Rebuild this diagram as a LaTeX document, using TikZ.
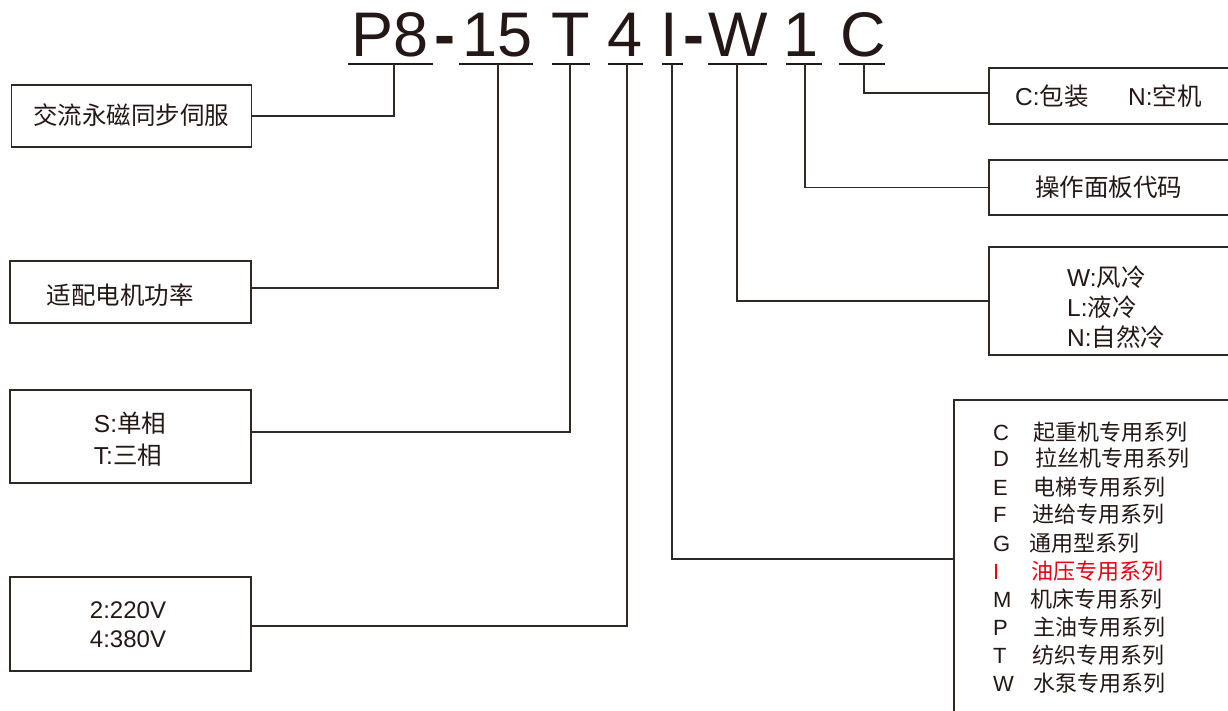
\documentclass[tikz,border=0pt]{standalone}
\usepackage{fontspec}
\setmainfont{Liberation Sans}
\newfontfamily\cjk{Noto Sans CJK SC}
\definecolor{ink}{HTML}{231815}
\definecolor{lineink}{HTML}{2E2827}
\definecolor{redink}{HTML}{E60012}
\newcommand{\zh}[1]{{\cjk #1}}
\tikzset{
  titletxt/.style={inner sep=0pt, anchor=base, text=ink, font=\fontsize{63}{63}\selectfont},
  uline/.style={draw=ink, line width=2.7pt},
  conn/.style={draw=lineink, line width=1.4pt},
  box/.style={draw=lineink, line width=1.6pt, rectangle, inner sep=0pt},
  boxtxt/.style={inner sep=0pt, text=ink, font=\fontsize{24.5}{24.5}\selectfont},
  listtxt/.style={inner sep=0pt, anchor=base west, text=ink, font=\fontsize{22}{22}\selectfont},
}
\begin{document}
\begin{tikzpicture}[x=1pt,y=-1pt]
\useasboundingbox (0,0) rectangle (1228,711);
\clip (0,0) rectangle (1228,711);
\fill[white] (0,0) rectangle (1228,711);

% ---- title ----
\node[titletxt] (tP8) at (390.5,57) {P8};
\node[titletxt, font=\fontsize{63}{63}\selectfont\bfseries] (th1) at (445,57) {-};
\node[titletxt] (t15) at (497.5,57) {15};
\node[titletxt] (tT)  at (570.5,57) {T};
\node[titletxt] (t4)  at (625,57) {4};
\node[titletxt] (tI)  at (669.5,57) {I};
\node[titletxt, font=\fontsize{63}{63}\selectfont\bfseries] (th2) at (693.5,57) {-};
\node[titletxt] (tW)  at (738,57) {W};
\node[titletxt] (t1)  at (801.5,57) {1};
\node[titletxt] (tC)  at (863,57) {C};

% underlines
\draw[uline] (348,64) -- (433,64);
\draw[uline] (459,64) -- (533,64);
\draw[uline] (552,64) -- (590,64);
\draw[uline] (608,64) -- (643,64);
\draw[uline] (662,64) -- (683,64);
\draw[uline] (708,64) -- (767,64);
\draw[uline] (786,64) -- (822,64);
\draw[uline] (839,64) -- (885,64);

\coordinate (kP) at (394,64);
\coordinate (k15) at (498,64);
\coordinate (kT) at (570,64);
\coordinate (k4) at (627,64);
\coordinate (kI) at (672,64);
\coordinate (kW) at (737,64);
\coordinate (k1) at (805,64);
\coordinate (kC) at (864,64);

% ---- left boxes ----
\node[box, minimum width=240pt, minimum height=62pt] (b1) at (131.5,116) {};
\node[box, minimum width=241pt, minimum height=62pt] (b2) at (130.5,292) {};
\node[box, minimum width=241pt, minimum height=93pt] (b3) at (130.5,436.5) {};
\node[box, minimum width=241pt, minimum height=94pt] (b4) at (130.5,624) {};

\node[boxtxt, anchor=base] (l1) at (131,125) {\zh{交流永磁同步伺服}};
\node[boxtxt, anchor=base] (l2) at (120,304) {\zh{适配电机功率}};
\node[boxtxt, anchor=base] (l3a) at (130,432) {S:\zh{单相}};
\node[boxtxt, anchor=base] (l3b) at (128,464) {T:\zh{三相}};
\node[boxtxt, anchor=base, font=\fontsize{24}{24}\selectfont] (l4a) at (128,618.5) {2:220V};
\node[boxtxt, anchor=base, font=\fontsize{24}{24}\selectfont] (l4b) at (128,647) {4:380V};

% ---- right boxes ----
\node[box, minimum width=251pt, minimum height=56pt] (bC) at (1114.5,96) {};
\node[box, minimum width=251pt, minimum height=55pt] (bO) at (1114.5,187.5) {};
\node[box, minimum width=251pt, minimum height=108pt] (bW) at (1114.5,301) {};
\node[box, minimum width=286pt, minimum height=322pt] (bS) at (1097,561) {};

\node[boxtxt, anchor=base west] (rC1) at (1015,106) {C:\zh{包装}};
\node[boxtxt, anchor=base west] (rC2) at (1128,106) {N:\zh{空机}};
\node[boxtxt, anchor=base] (rO) at (1108.5,197) {\zh{操作面板代码}};
\node[boxtxt, anchor=base west] (rW1) at (1067,286) {W:\zh{风冷}};
\node[boxtxt, anchor=base west] (rW2) at (1067,316) {L:\zh{液冷}};
\node[boxtxt, anchor=base west] (rW3) at (1067,346) {N:\zh{自然冷}};

% series list
\node[listtxt] (sC)  at (993,440) {C};   \node[listtxt] (sCt) at (1033,440) {\zh{起重机专用系列}};
\node[listtxt] (sD)  at (993,466) {D};   \node[listtxt] (sDt) at (1035,466) {\zh{拉丝机专用系列}};
\node[listtxt] (sE)  at (993,495) {E};   \node[listtxt] (sEt) at (1033,495) {\zh{电梯专用系列}};
\node[listtxt] (sF)  at (993,522) {F};   \node[listtxt] (sFt) at (1032,522) {\zh{进给专用系列}};
\node[listtxt] (sG)  at (993,551) {G};   \node[listtxt] (sGt) at (1029,551) {\zh{通用型系列}};
\node[listtxt, text=redink] (sI)  at (993,579) {I};   \node[listtxt, text=redink] (sIt) at (1031,579) {\zh{油压专用系列}};
\node[listtxt] (sM)  at (993,607) {M};   \node[listtxt] (sMt) at (1030,607) {\zh{机床专用系列}};
\node[listtxt] (sP)  at (993,635) {P};   \node[listtxt] (sPt) at (1033,635) {\zh{主油专用系列}};
\node[listtxt] (sT)  at (993,663) {T};   \node[listtxt] (sTt) at (1032,663) {\zh{纺织专用系列}};
\node[listtxt] (sW)  at (993,691) {W};   \node[listtxt] (sWt) at (1033,691) {\zh{水泵专用系列}};

% ---- connectors ----
\draw[conn] (kP) |- (b1.east);
\draw[conn] (k15) |- ([yshift=4pt]b2.east);
\draw[conn] (kT) |- ([yshift=4.5pt]b3.east);
\draw[conn] (k4) |- ([yshift=-2pt]b4.east);
\draw[conn] (kI) |- ([yshift=2pt]bS.west);
\draw[conn] (kW) |- (bW.west);
\draw[conn] (k1) |- (bO.west);
\draw[conn] (kC) |- ([yshift=3pt]bC.west);
\end{tikzpicture}
\end{document}
